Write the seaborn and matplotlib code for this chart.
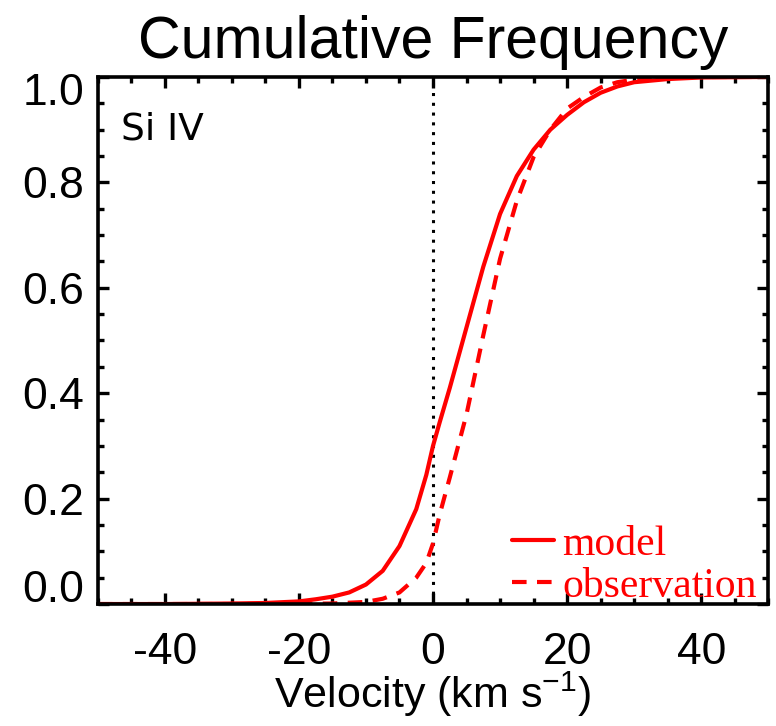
import numpy as np
import pandas as pd
import matplotlib
matplotlib.use("Agg")
import matplotlib.pyplot as plt
import matplotlib.transforms as mtransforms
from matplotlib.ticker import MultipleLocator
import seaborn as sns

# velocity grid (km/s) and cumulative frequencies
vel_model = [-50, -40, -30, -25, -20, -17.5, -15, -12.5, -10, -7.5, -5, -2.5, -1, 0,
             1, 2.5, 5, 7.5, 10, 12.5, 15, 17.5, 20, 22.5, 25, 27.5, 30, 35, 40, 50]
cum_model = [0.0, 0.0, 0.001, 0.002, 0.005, 0.009, 0.014, 0.022, 0.037, 0.063, 0.11, 0.18, 0.245, 0.30,
             0.345, 0.41, 0.525, 0.64, 0.74, 0.812, 0.862, 0.90, 0.928, 0.952, 0.97, 0.982, 0.99, 0.996, 0.999, 1.0]

vel_obs = [-50, -30, -20, -15, -10, -7.5, -5, -2.5, -1, 0, 1, 2.5, 5, 7.5, 10,
           12.5, 15, 17.5, 20, 22.5, 25, 27.5, 30, 35, 40, 50]
cum_obs = [0.0, 0.0, 0.0005, 0.001, 0.004, 0.01, 0.022, 0.05, 0.078, 0.115, 0.17, 0.24, 0.36, 0.51, 0.655,
           0.765, 0.848, 0.90, 0.94, 0.962, 0.98, 0.99, 0.995, 0.999, 1.0, 1.0]

sns.set_style("ticks")
plt.rcParams['font.family'] = ['Liberation Sans', 'DejaVu Sans']
plt.rcParams['axes.unicode_minus'] = False
plt.rcParams['mathtext.default'] = 'regular'

fig = plt.figure(figsize=(7.76, 7.26), dpi=100)
ax = fig.add_axes([0.126, 0.168, 0.864, 0.726])

# zero-velocity reference
ax.axvline(0, color='black', linestyle=(0, (1, 2.2)), linewidth=2.2, zorder=1)

sns.lineplot(x=vel_model, y=cum_model, color='red', linewidth=3, label='model', ax=ax)
sns.lineplot(x=vel_obs, y=cum_obs, color='red', linewidth=3, linestyle=(0, (3.5, 2.5)),
             label='observation', ax=ax)

ax.set_xlim(-50, 50)
ax.set_ylim(0, 1.0)
ax.xaxis.set_major_locator(MultipleLocator(20))
ax.xaxis.set_minor_locator(MultipleLocator(5))
ax.yaxis.set_major_locator(MultipleLocator(0.2))
ax.yaxis.set_minor_locator(MultipleLocator(0.05))
ax.yaxis.set_major_formatter(matplotlib.ticker.FormatStrFormatter('%.1f'))

ax.tick_params(which='both', direction='in', top=True, right=True, width=2.4, colors='black')
ax.tick_params(which='major', length=8, labelsize=32)
ax.tick_params(axis='x', which='major', pad=20)
ax.tick_params(axis='y', which='major', pad=10)
ax.tick_params(which='minor', length=4)
for s in ax.spines.values():
    s.set_linewidth(2.6)
    s.set_color('black')

ax.set_title('Cumulative Frequency', fontsize=42.5, pad=14, color='black')
ax.set_xlabel('Velocity (km s$^{-1}$)', fontsize=31, labelpad=-2, color='black')
ax.set_ylabel('')
ax.text(0.035, 0.9, 'Si IV', transform=ax.transAxes, fontsize=27,
        family='DejaVu Sans', va='center', ha='left', color='black')

leg = ax.legend(loc='lower right', bbox_to_anchor=(1.008, -0.035), frameon=False,
                labelcolor='red', prop={'family': 'Liberation Serif', 'size': 30},
                handlelength=1.0, handletextpad=0.2, labelspacing=0.08,
                borderaxespad=0)

# end labels on the y axis are pulled inside the axis range
fig.canvas.draw()
for lab in ax.get_yticklabels():
    if lab.get_text() == '1.0':
        lab.set_transform(lab.get_transform() + mtransforms.ScaledTranslation(0, -12 / 100, fig.dpi_scale_trans))
    elif lab.get_text() == '0.0':
        lab.set_transform(lab.get_transform() + mtransforms.ScaledTranslation(0, 18 / 100, fig.dpi_scale_trans))

fig.savefig('out.png', dpi=100)
